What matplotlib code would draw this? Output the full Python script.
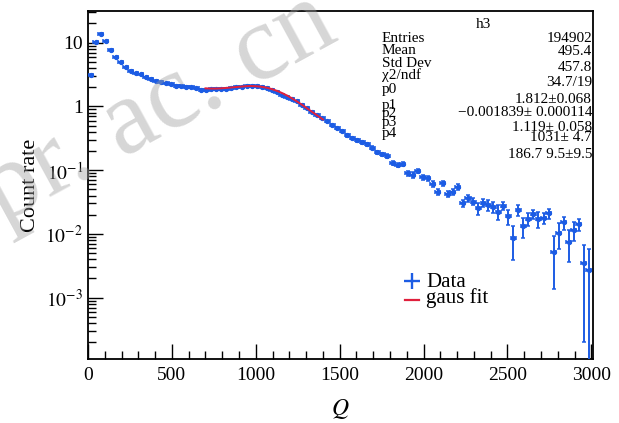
import numpy as np
import matplotlib
matplotlib.use("Agg")
import matplotlib.pyplot as plt
from matplotlib.lines import Line2D
from matplotlib.ticker import MultipleLocator, LogLocator, FuncFormatter, NullFormatter

# ---------------- data ----------------
n_bins = 100
q_min, q_max = 0.0, 3000.0

rate = [
    3.11, 10.1, 13.9, 10.6, 7.68, 5.89, 4.92, 4.11, 3.64, 3.31,
    3.19, 2.86, 2.70, 2.54, 2.45, 2.31, 2.22, 2.12, 2.09, 2.04,
    1.99, 1.92, 1.84, 1.84, 1.86, 1.86, 1.86, 1.88, 1.92, 2.00,
    2.04, 2.12, 2.09, 2.09, 2.04, 1.95, 1.83, 1.66, 1.52, 1.40,
    1.30, 1.20, 1.07, 0.93, 0.83, 0.74, 0.65, 0.58, 0.52, 0.46,
    0.41, 0.350, 0.323, 0.294, 0.274, 0.255, 0.225, 0.191, 0.178, 0.167,
    0.131, 0.121, 0.124, 0.0894, 0.0841, 0.0971, 0.0782, 0.0746, 0.0607, 0.0460,
    0.0623, 0.0423, 0.0460, 0.0551, 0.0303, 0.0362, 0.0320, 0.0253, 0.0309, 0.0284,
    0.0265, 0.0223, 0.0274, 0.0188, 0.00864, 0.0237, 0.0131, 0.0172, 0.0206, 0.0172,
    0.0178, 0.0209, 0.00527, 0.0103, 0.0151, 0.00756, 0.0115, 0.0143, 0.00350, 0.00272,
]

rate_err = [
    0.08, 0.20, 0.25, 0.20, 0.15, 0.12, 0.10, 0.09, 0.08, 0.07,
    0.07, 0.06, 0.06, 0.06, 0.055, 0.055, 0.05, 0.05, 0.05, 0.05,
    0.05, 0.05, 0.045, 0.045, 0.045, 0.045, 0.045, 0.045, 0.045, 0.045,
    0.045, 0.045, 0.045, 0.045, 0.045, 0.045, 0.04, 0.04, 0.035, 0.035,
    0.03, 0.03, 0.03, 0.025, 0.025, 0.022, 0.02, 0.02, 0.018, 0.017,
    0.016, 0.015, 0.014, 0.013, 0.013, 0.012, 0.012, 0.011, 0.011, 0.010,
    0.009, 0.009, 0.009, 0.008, 0.008, 0.008, 0.007, 0.007, 0.006, 0.005,
    0.006, 0.005, 0.005, 0.0055, 0.0040, 0.0042, 0.0040, 0.0055, 0.0040, 0.0055,
    0.0050, 0.0058, 0.0040, 0.0050, 0.0047, 0.0047, 0.0046, 0.0040, 0.0035, 0.0050,
    0.0033, 0.0037, 0.0039, 0.0045, 0.0036, 0.0039, 0.0037, 0.0031, 0.0033, 0.0030,
]

# fit: expo(0) + gaus(2), parameters from the stats box
fit_params = [1.812, -0.001839, 1.119, 1031.0, 186.7]
fit_range = [700.0, 1400.0]

stat_title = "h3"
stat_labels = ["Entries", "Mean", "Std Dev", "\u03c72/ndf", "p0", "p1", "p2", "p3", "p4"]
stat_values = ["194902", "495.4", "457.8", "34.7/19", "1.812\u00b10.068",
               "\u22120.001839\u00b1 0.000114", "1.119\u00b1 0.058", "1031\u00b1 4.7",
               "186.7 9.5\u00b19.5"]

legend_labels = ["Data", "gaus fit"]

y_tick_vals = [1e-3, 1e-2, 1e-1, 1, 10]
y_tick_text = [r"$10^{-3}$", r"$10^{-2}$", r"$10^{-1}$", "1", "10"]

watermark = "pr. ac. cn"

# ---------------- style ----------------
plt.rcParams['font.family'] = ['Liberation Serif', 'DejaVu Serif']
plt.rcParams['mathtext.fontset'] = 'stix'

W, H = 619, 423
fig = plt.figure(figsize=(W / 100, H / 100), dpi=100)
L, R, T, B = 88, 593, 11, 359
ax = fig.add_axes([L / W, 1 - B / H, (R - L) / W, (B - T) / H])

blue = '#1c5ce4'
red = '#e0203c'

bw = (q_max - q_min) / n_bins
q = q_min + bw * (np.arange(n_bins) + 0.5)

ax.errorbar(q, rate, xerr=bw / 2, yerr=rate_err, fmt='o', ms=2.8, color=blue,
            ecolor=blue, elinewidth=1.4, capsize=1.4, capthick=1.1, zorder=3)

xf = np.linspace(fit_range[0], fit_range[1], 300)
p = fit_params
yf = np.exp(p[0] + p[1] * xf) + p[2] * np.exp(-0.5 * ((xf - p[3]) / p[4]) ** 2)
ax.plot(xf, yf, color=red, lw=1.4, zorder=4)

ax.set_yscale('log')
ax.set_xlim(0, 3010)
ax.set_ylim(1.09e-4, 31.4)

ax.xaxis.set_major_locator(MultipleLocator(500))
ax.xaxis.set_minor_locator(MultipleLocator(100))
ax.yaxis.set_major_locator(LogLocator(base=10, numticks=20))
ax.yaxis.set_minor_locator(LogLocator(base=10, subs=np.arange(2, 10), numticks=20))
labmap = dict(zip(y_tick_vals, y_tick_text))
def yfmt(v, pos):
    for k, s in labmap.items():
        if abs(np.log10(v) - np.log10(k)) < 1e-6:
            return s
    return ""
ax.yaxis.set_major_formatter(FuncFormatter(yfmt))
ax.yaxis.set_minor_formatter(NullFormatter())

ax.tick_params(which='both', direction='in', top=False, right=False, width=1.0,
               labelsize=14)
ax.tick_params(which='major', length=11)
ax.tick_params(which='minor', length=6)
ax.tick_params(axis='x', pad=6)
for s in ax.spines.values():
    s.set_linewidth(1.3)

ax.set_ylabel("Count rate", fontsize=16, labelpad=4)
ax.set_xlabel(r"$Q$", fontsize=17, labelpad=9)

def fx(px):
    return px / W
def fy(py):
    return 1 - py / H

# stats box text
fig.text(fx(483), fy(28.5), stat_title, fontsize=11, ha='center', va='baseline')
lab_base = [41.7, 54, 66.7, 79, 92.7, 109, 117.5, 126, 137]
val_base = [41.7, 55, 71, 86, 102.7, 116, 131, 141, 157.7]
for s, b in zip(stat_labels, lab_base):
    fig.text(fx(382), fy(b), s, fontsize=11, ha='left', va='baseline')
for s, b in zip(stat_values, val_base):
    fig.text(fx(592), fy(b), s, fontsize=11, ha='right', va='baseline')

# legend (ROOT-style, no frame)
fig.add_artist(Line2D([fx(412)], [fy(281)], color=blue, marker='+', linestyle='none',
                      markersize=12, markeredgewidth=1.7, transform=fig.transFigure))
fig.add_artist(Line2D([fx(405), fx(419)], [fy(300), fy(300)], color=red, lw=1.6,
                      transform=fig.transFigure))
fig.text(fx(426), fy(287), legend_labels[0], fontsize=15, ha='left', va='baseline')
fig.text(fx(426), fy(303), legend_labels[1], fontsize=15, ha='left', va='baseline')

# watermark
fig.text(fx(2), fy(224), watermark, fontsize=77, color='0.62', alpha=0.42,
         rotation=28.6, rotation_mode='anchor', ha='left', va='baseline', zorder=10)

fig.savefig("out.png", dpi=100)
